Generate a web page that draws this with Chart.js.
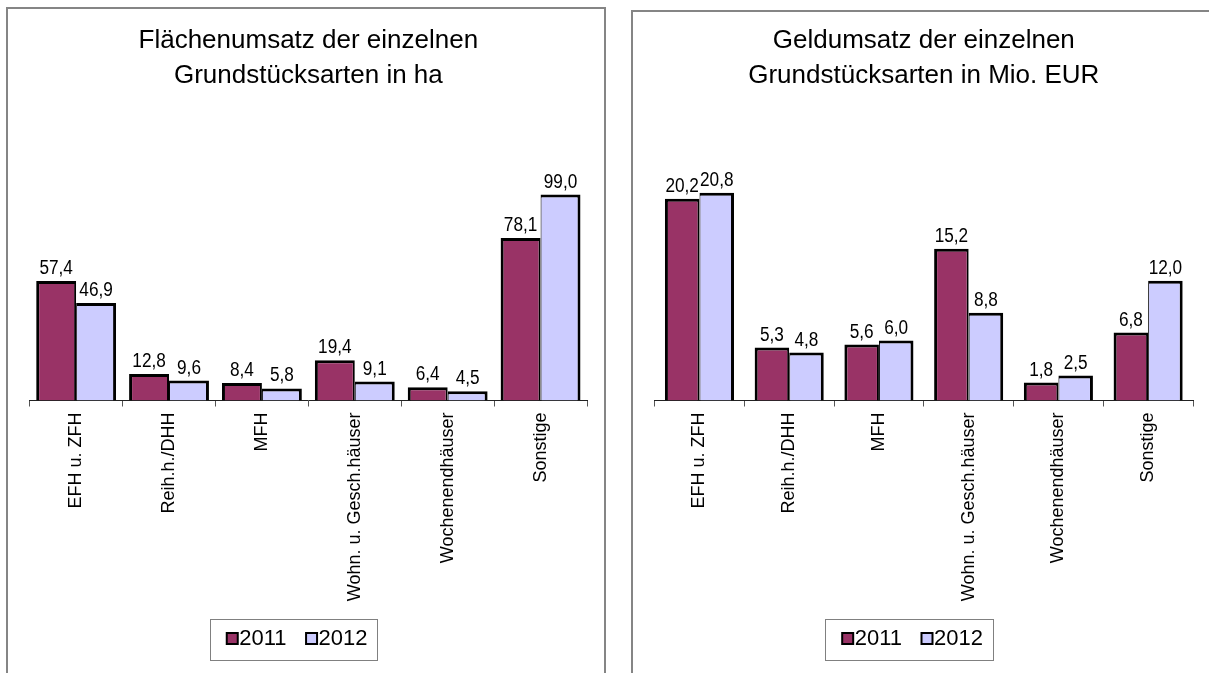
<!DOCTYPE html>
<html>
<head>
<meta charset="utf-8">
<script src="https://cdn.jsdelivr.net/npm/chart.js@4/dist/chart.umd.min.js"></script>
<style>
  body { margin: 0; background: #fff; width: 1209px; height: 673px; overflow: hidden; position: relative; }
  .panel { position: absolute; border: 2px solid #858585; box-sizing: border-box; }
  canvas { position: absolute; }
</style>
</head>
<body>
<div class="panel" style="left:6px;top:7px;width:600px;height:700px"></div>
<div class="panel" style="left:631px;top:10px;width:600px;height:700px"></div>
<canvas id="flaeche" width="596" height="664" style="left:8px;top:9px"></canvas>
<canvas id="geld" width="576" height="661" style="left:633px;top:12px"></canvas>
<script>
// Daten
const categories = ['EFH u. ZFH', 'Reih.h./DHH', 'MFH', 'Wohn. u. Gesch.häuser', 'Wochenendhäuser', 'Sonstige'];
const years = ['2011', '2012'];
const flaeche2011 = [57.4, 12.8, 8.4, 19.4, 6.4, 78.1];
const flaeche2012 = [46.9, 9.6, 5.8, 9.1, 4.5, 99.0];
const geld2011 = [20.2, 5.3, 5.6, 15.2, 1.8, 6.8];
const geld2012 = [20.8, 4.8, 6.0, 8.8, 2.5, 12.0];

const FONT = "'Liberation Sans', Arial, sans-serif";
const colors = ['#993366', '#CCCCFF'];
Chart.defaults.font.family = FONT;
Chart.defaults.color = '#000';

// small legend swatches (drawn off-centre so the text sits close to them)
function swatch(color) {
  const c = document.createElement('canvas');
  c.width = 24; c.height = 13;
  const x = c.getContext('2d');
  x.fillStyle = '#000';
  x.fillRect(10, 0, 13, 13);
  x.fillStyle = color;
  x.fillRect(12, 2, 9, 9);
  return c;
}
const swatches = colors.map(swatch);

// Werte über den Balken (etwas schmal gestellt wie im Original)
const valueLabels = {
  id: 'valueLabels',
  afterDatasetsDraw(chart) {
    const ctx = chart.ctx;
    ctx.save();
    ctx.font = '20px ' + FONT;
    ctx.fillStyle = '#000';
    ctx.textAlign = 'center';
    ctx.textBaseline = 'alphabetic';
    chart.data.datasets.forEach((ds, di) => {
      chart.getDatasetMeta(di).data.forEach((bar, i) => {
        ctx.save();
        ctx.translate(bar.x, bar.y - 7);
        ctx.scale(0.86, 1);
        ctx.fillText(ds.data[i].toFixed(1).replace('.', ','), 0, 0);
        ctx.restore();
      });
    });
    ctx.restore();
  }
};

const legendFrame = {
  id: 'legendFrame',
  afterLayout(chart, args, opts) {
    chart.legend.left += opts.shift;
    chart.legend.right += opts.shift;
  },
  afterDraw(chart) {
    const hb = chart.legend.legendHitBoxes;
    if (!hb.length) return;
    const last = hb[hb.length - 1];
    const x0 = Math.round(hb[0].left - 17.5) + 0.5;
    const x1 = Math.round(last.left + last.width + 10) + 0.5;
    const y0 = Math.round(hb[0].top - 8.5) + 0.5;
    const y1 = Math.round(hb[0].top + hb[0].height + 10.5) + 0.5;
    const ctx = chart.ctx;
    ctx.save();
    ctx.strokeStyle = '#808080';
    ctx.lineWidth = 1;
    ctx.strokeRect(x0, y0, x1 - x0, y1 - y0);
    ctx.restore();
  }
};

function makeChart(id, title, data2011, data2012, yMax, catPct, pad) {
  const borders = [
    { top: 3, left: 3, right: 2, bottom: 0 },
    { top: 3, left: 1, right: 3, bottom: 0 }
  ];
  return new Chart(document.getElementById(id), {
    type: 'bar',
    data: {
      labels: categories,
      datasets: [data2011, data2012].map((d, i) => ({
        label: years[i],
        data: d,
        backgroundColor: colors[i],
        borderColor: '#000',
        borderWidth: borders[i],
        categoryPercentage: catPct,
        barPercentage: 1
      }))
    },
    options: {
      responsive: false,
      animation: false,
      devicePixelRatio: 1,
      layout: { padding: { left: pad.left, right: pad.right, top: 0, bottom: 13.5 } },
      plugins: {
        title: {
          display: true,
          text: title,
          color: '#000',
          font: { size: 26, weight: 'normal', lineHeight: 1.373 },
          padding: { top: pad.titleTop, bottom: 57 }
        },
        legend: {
          position: 'bottom',
          labels: {
            color: '#000',
            font: { size: 22 },
            usePointStyle: true,
            pointStyleWidth: 1,
            padding: 20,
            generateLabels: c => Chart.defaults.plugins.legend.labels.generateLabels(c)
              .map((item, i) => Object.assign(item, { pointStyle: swatches[i] }))
          }
        },
        legendFrame: { shift: -11 },
        tooltip: { enabled: false }
      },
      scales: {
        x: {
          grid: { drawOnChartArea: false, drawTicks: true, tickLength: 6, color: '#555' },
          border: { color: '#222', width: 1 },
          ticks: { color: '#000', font: { size: 18 }, minRotation: 90, maxRotation: 90, autoSkip: false, padding: 6 },
          afterFit: s => { s.height = 207; }
        },
        y: { display: false, min: 0, max: yMax }
      }
    },
    plugins: [valueLabels, legendFrame]
  });
}

makeChart('flaeche', ['Flächenumsatz der einzelnen', 'Grundstücksarten in ha'],
  flaeche2011, flaeche2012, 120, 0.86, { left: 21.7, right: 17, titleTop: 13.5 });
makeChart('geld', ['Geldumsatz der einzelnen', 'Grundstücksarten in Mio. EUR'],
  geld2011, geld2012, 25, 0.77, { left: 21.6, right: 16, titleTop: 10.5 });
</script>
</body>
</html>
